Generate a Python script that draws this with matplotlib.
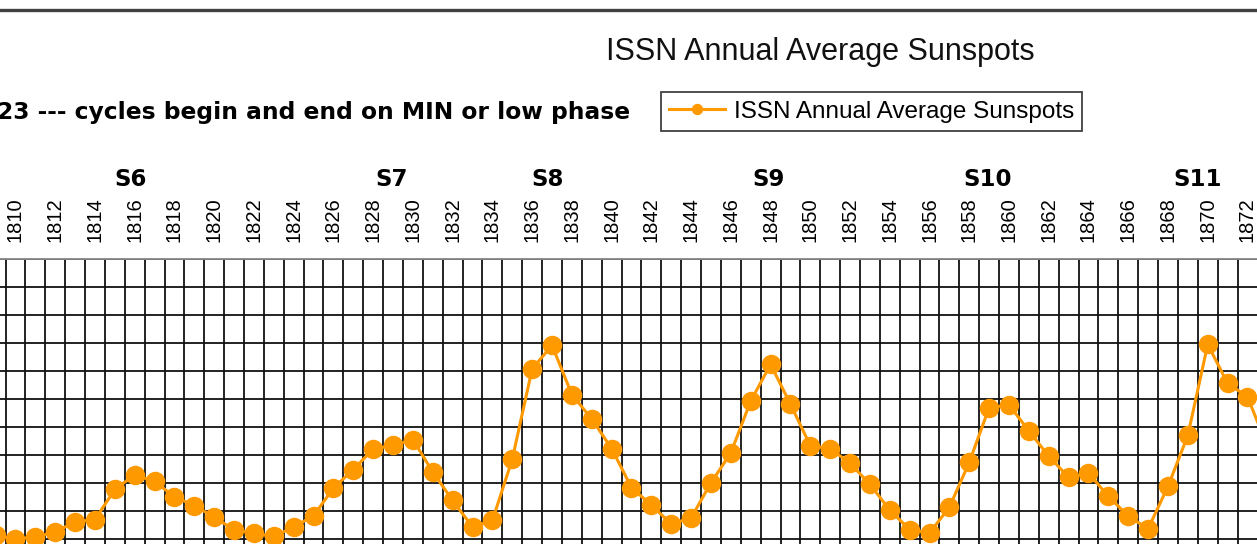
import numpy as np
import matplotlib
matplotlib.use("Agg")
import matplotlib.pyplot as plt
from matplotlib.lines import Line2D

# ISSN yearly mean sunspot numbers (v1), 1808-1873
years = list(range(1808, 1874))
sunspots = [8.1, 2.5, 0.0, 1.4, 5.0, 12.2, 13.9, 35.4, 45.8, 41.1,
            30.1, 23.9, 15.6, 6.6, 4.0, 1.8, 8.5, 16.6, 36.3, 49.6,
            64.2, 67.0, 70.9, 47.8, 27.5, 8.5, 13.2, 56.9, 121.5, 138.3,
            103.2, 85.7, 64.6, 36.7, 24.2, 10.7, 15.0, 40.1, 61.5, 98.5,
            124.7, 96.3, 66.6, 64.5, 54.1, 39.0, 20.6, 6.7, 4.3, 22.7,
            54.8, 93.8, 95.8, 77.2, 59.1, 44.0, 47.0, 30.5, 16.3, 7.3,
            37.6, 74.0, 139.0, 111.2, 101.6, 66.2]

cycle_names = ["S6", "S7", "S8", "S9", "S10", "S11"]
cycle_label_at = [1815.8, 1828.95, 1836.8, 1847.9, 1858.9, 1869.5]

tick_years = list(range(1810, 1873, 2))

orange = "#FF9900"

fig = plt.figure(figsize=(12.57, 5.44), dpi=100)
ax_top = 1 - 259 / 544
ax = fig.add_axes([0, 0, 1, ax_top])

ax.plot(years, sunspots, color=orange, lw=2.2, marker="o", markersize=13,
        markerfacecolor=orange, markeredgecolor=orange,
        label="ISSN Annual Average Sunspots", zorder=3)

# year labels on top, every other year
ax.xaxis.tick_top()
ax.set_xticks(tick_years)
ax.set_xticklabels([str(y) for y in tick_years], rotation=90,
                   fontsize=14.5, family="Liberation Sans")
ax.tick_params(axis="x", length=0, pad=12)
ax.set_xticks(np.arange(1808.5, 1874, 1), minor=True)
ax.tick_params(axis="x", which="minor", length=0)
ax.set_yticks(np.arange(0, 201, 20))
ax.tick_params(axis="y", length=0, labelleft=False)

ax.set_xlim(1809.22, 1872.48)
ax.set_ylim(-3.6, 200)

ax.grid(True, which="minor", axis="x", color="#111111", lw=1.3)
ax.grid(True, which="major", axis="y", color="#111111", lw=1.3)
ax.grid(False, which="major", axis="x")
ax.set_axisbelow(True)

for side in ["left", "right", "bottom"]:
    ax.spines[side].set_visible(False)
ax.spines["top"].set_color("#888888")
ax.spines["top"].set_linewidth(1.3)

# cycle labels
for name, x in zip(cycle_names, cycle_label_at):
    ax.text(x, 1.256, name, transform=ax.get_xaxis_transform(),
            ha="center", va="baseline", fontsize=16.5, fontweight="bold",
            family="DejaVu Sans", clip_on=False)

# chart border at top
fig.add_artist(Line2D([0, 1], [1 - 10 / 544, 1 - 10 / 544], color="#404040", lw=2.4))

fig.text(820.5 / 1257, 1 - 60 / 544, "ISSN Annual Average Sunspots",
         ha="center", va="baseline", fontsize=22, family="Liberation Sans",
         color="#111111")

fig.text(630 / 1257, 1 - 119 / 544, "23 --- cycles begin and end on MIN or low phase",
         ha="right", va="baseline", fontsize=16.8, fontweight="bold",
         family="DejaVu Sans")

leg = ax.legend(loc="center", bbox_to_anchor=(871.5 / 1257, 1 - 111.5 / 544),
                bbox_transform=fig.transFigure, fancybox=False, frameon=True,
                prop={"family": "Liberation Sans", "size": 17.5},
                handlelength=2.3, handletextpad=0.35, borderpad=0.35,
                markerscale=0.55)
leg.get_frame().set_edgecolor("#111111")
leg.get_frame().set_linewidth(1.3)

fig.savefig("out.png", dpi=100)
